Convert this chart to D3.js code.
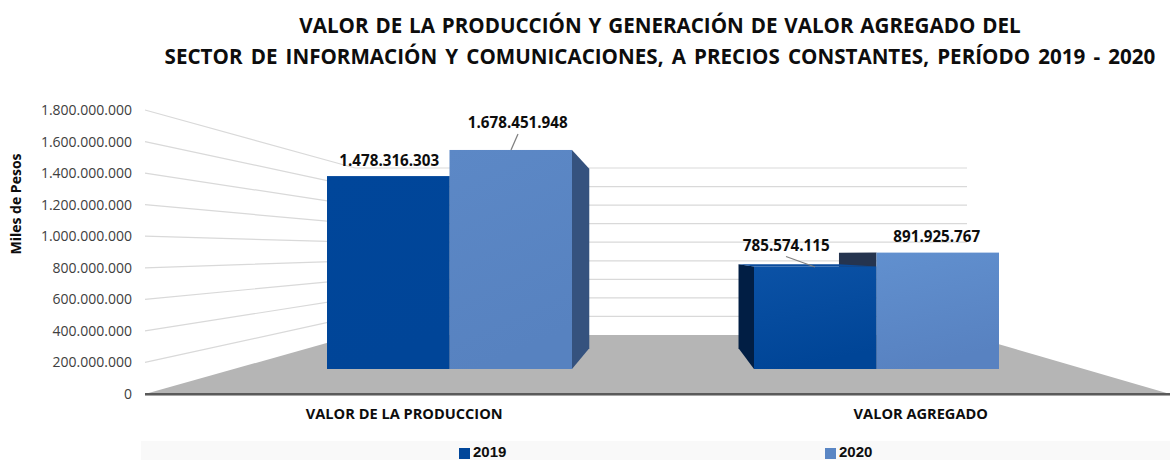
<!DOCTYPE html>
<meta charset="utf-8">
<script src="https://d3js.org/d3.v7.min.js"></script>
<style>
  body { margin: 0; background: #fff; }
  text { font-family: "Open Sans", sans-serif; }
</style>
<div id="vis"></div>
<script type="text/javascript">

var categories = ["VALOR DE LA PRODUCCION", "VALOR AGREGADO"];
var seriesNames = ["2019", "2020"];
var values2019 = [1478316303, 785574115];
var values2020 = [1678451948, 891925767];
var tickValues = [0, 200000000, 400000000, 600000000, 800000000, 1000000000, 1200000000, 1400000000, 1600000000, 1800000000];
var titleLines = [
  "VALOR DE LA PRODUCCIÓN Y GENERACIÓN DE VALOR AGREGADO DEL",
  "SECTOR DE INFORMACIÓN Y COMUNICACIONES, A PRECIOS CONSTANTES, PERÍODO 2019 - 2020"
];

var width = 1170, height = 460;

var svg = d3.select("#vis").append("svg")
  .attr("width", width)
  .attr("height", height)
  .style("display", "block");

var fmt = d3.formatLocale({decimal: ",", thousands: ".", grouping: [3], currency: ["", ""]}).format(",d");

// three value scales: the axis edge, the back wall, the front of the bars
var yAxis = d3.scaleLinear().domain([0, 1800000000]).range([394, 110]);
var yWall = d3.scaleLinear().domain([0, 1800000000]).range([335, 168]);
var yBar = d3.scaleLinear().domain([0, 1800000000]).range([369, 134.1]);

var xGroup = d3.scaleBand().domain(categories).range([236, 1090]);
var xBar = d3.scaleBand().domain(seriesNames).range([-122.5, 122.5]);
var xLabel = d3.scaleBand().domain(categories).range([146, 1179]);

var wallLeft = 355, wallRight = 967, axisLeft = 145, axisRight = 1170;

// perspective of the bar boxes
var vp = {x: 668, y: 254}, depth = 0.18;
function back(p) {
  return [p[0] + (vp.x - p[0]) * depth, p[1] + (vp.y - p[1]) * depth];
}

var defs = svg.append("defs");
function gradient(id, c0, c1) {
  var g = defs.append("linearGradient").attr("id", id)
    .attr("x1", 0).attr("y1", 0).attr("x2", 0.25).attr("y2", 1);
  g.append("stop").attr("offset", "0").attr("stop-color", c0);
  g.append("stop").attr("offset", "1").attr("stop-color", c1);
}
gradient("front2019a", "#00469a", "#004598");
gradient("front2019b", "#0b52a6", "#004597");
gradient("front2020a", "#5c88c6", "#5782c0");
gradient("front2020b", "#6190cf", "#5882c1");

// title
svg.append("g").selectAll("text").data(titleLines)
  .enter().append("text")
    .attr("x", 660)
    .attr("y", (d, i) => 33 + i * 31)
    .attr("text-anchor", "middle")
    .attr("font-size", 20.6)
    .attr("font-weight", 700)
    .attr("word-spacing", (d, i) => i === 0 ? 1.5 : 2.8)
    .attr("fill", "#0d0d0d")
    .text(d => d);

// floor
svg.append("path")
  .attr("fill", "#b5b5b5")
  .attr("d", d3.line()([
    [axisLeft, yAxis(0)], [wallLeft, yWall(0)], [wallRight, yWall(0)], [axisRight, yAxis(0)]
  ]));

// grid, from the axis edge to the back wall and along it
var gridTicks = tickValues.filter(d => d > 0);
svg.append("g").selectAll("path").data(gridTicks)
  .enter().append("path")
    .attr("fill", "none")
    .attr("stroke", "#d9d9d9")
    .attr("stroke-width", 1.2)
    .attr("d", d => d3.line()([
      [axisLeft, yAxis(d)], [wallLeft, yWall(d)], [wallRight, yWall(d)]
    ]));

// base line
svg.append("line")
  .attr("x1", axisLeft).attr("x2", axisRight)
  .attr("y1", yAxis(0) + 0.5).attr("y2", yAxis(0) + 0.5)
  .attr("stroke", "#a6a6a6").attr("stroke-width", 3);
svg.append("line")
  .attr("x1", axisLeft).attr("x2", axisRight)
  .attr("y1", yAxis(0)).attr("y2", yAxis(0))
  .attr("stroke", "#404040").attr("stroke-width", 1.6);

// y axis
var gy = svg.append("g")
  .attr("transform", "translate(132,0)")
  .call(d3.axisLeft(yAxis).tickValues(tickValues).tickFormat(fmt).tickSize(0).tickPadding(0));
gy.select(".domain").remove();
gy.selectAll("text")
  .attr("font-size", 14)
  .attr("fill", "#404040")
  .style("font-family", '"Open Sans", sans-serif');

svg.append("text")
  .attr("transform", "translate(21,204) rotate(-90)")
  .attr("text-anchor", "middle")
  .attr("font-size", 14)
  .attr("font-weight", 700)
  .attr("fill", "#0d0d0d")
  .text("Miles de Pesos");

// x labels
var gx = svg.append("g")
  .attr("transform", "translate(0,409)")
  .call(d3.axisBottom(xLabel).tickSize(0).tickPadding(0));
gx.select(".domain").remove();
gx.selectAll("text")
  .attr("font-size", 14.6)
  .attr("font-weight", 700)
  .attr("fill", "#0d0d0d")
  .style("font-family", '"Open Sans", sans-serif');

// bars
var bars = [];
categories.forEach((c, i) => {
  bars.push({cat: c, group: i, series: "2020", value: values2020[i]});
  bars.push({cat: c, group: i, series: "2019", value: values2019[i]});
});
bars.forEach(d => {
  d.x0 = xGroup(d.cat) + xGroup.bandwidth() / 2 + xBar(d.series);
  d.x1 = d.x0 + xBar.bandwidth();
  d.top = yBar(d.value);
  d.base = yBar(0);
  d.edge = d.x1 < vp.x ? d.x1 : d.x0;
});

function sideColor(d) {
  if (d.series === "2019") return "#011e44";
  return d.edge > vp.x ? "#25344f" : "#35527e";
}

svg.append("g").selectAll("path").data(bars)
  .enter().append("path")
    .attr("fill", sideColor)
    .attr("d", d => d3.line()([
      [d.edge, d.top], back([d.edge, d.top]), back([d.edge, d.base]), [d.edge, d.base]
    ]));

// a top face only shows when the bar ends below eye level
svg.append("g").selectAll("path").data(bars.filter(d => d.top > vp.y))
  .enter().append("path")
    .attr("fill", d => d.series === "2019" ? "#0a4b9c" : "#5a86c4")
    .attr("d", d => d3.line()([
      [d.x0, d.top], [d.x1, d.top], back([d.x1, d.top]), back([d.x0, d.top])
    ]));

// fronts, 2019 first
svg.append("g").selectAll("rect").data(bars.slice().reverse())
  .enter().append("rect")
    .attr("x", d => d.x0)
    .attr("y", d => d.top)
    .attr("width", d => d.x1 - d.x0)
    .attr("height", d => d.base - d.top)
    .attr("fill", d => "url(#front" + d.series + (d.group === 0 ? "a" : "b") + ")");

// value labels and their leaders
var labelPos = {
  "VALOR DE LA PRODUCCION2019": {dx: 1, dy: -10},
  "VALOR DE LA PRODUCCION2020": {dx: 7, dy: -22},
  "VALOR AGREGADO2019": {dx: -29, dy: -15},
  "VALOR AGREGADO2020": {dx: -1, dy: -11}
};
svg.append("g").selectAll("text").data(bars)
  .enter().append("text")
    .attr("x", d => (d.x0 + d.x1) / 2 + labelPos[d.cat + d.series].dx)
    .attr("y", d => d.top + labelPos[d.cat + d.series].dy)
    .attr("text-anchor", "middle")
    .attr("font-size", 15.2)
    .attr("font-weight", 700)
    .attr("fill", "#0d0d0d")
    .text(d => fmt(d.value));

var leader1 = bars.find(e => e.series === "2020" && e.group === 0);
var leader2 = bars.find(e => e.series === "2019" && e.group === 1);
svg.append("path")
  .attr("stroke", "#7f7f7f").attr("fill", "none").attr("stroke-width", 1.2)
  .attr("d", d3.line()([[518, leader1.top - 16], [511, leader1.top]]));
svg.append("path")
  .attr("stroke", "#7f7f7f").attr("fill", "none").attr("stroke-width", 1.2)
  .attr("d", d3.line()([[786, leader2.top - 10], [815, leader2.top + 0.5]]));

// legend
svg.append("rect")
  .attr("x", 141).attr("y", 441)
  .attr("width", width - 141).attr("height", 19)
  .attr("fill", "#f9f9f9");

var xLegend = d3.scaleOrdinal().domain(seriesNames).range([459, 825]);
var legend = svg.append("g").selectAll("g").data(seriesNames)
  .enter().append("g")
    .attr("transform", d => "translate(" + xLegend(d) + ",0)");
legend.append("rect")
  .attr("y", 448).attr("width", 11).attr("height", 11)
  .attr("fill", d => d === "2019" ? "#00469a" : "#5a86c4");
// smaller descent than Open Sans, the band sits right on the page edge
legend.append("text")
  .attr("x", 14).attr("y", 456.7)
  .attr("font-size", 15)
  .attr("font-weight", 700)
  .attr("fill", "#0d0d0d")
  .style("font-family", '"Liberation Sans", sans-serif')
  .text(d => d);

</script>
